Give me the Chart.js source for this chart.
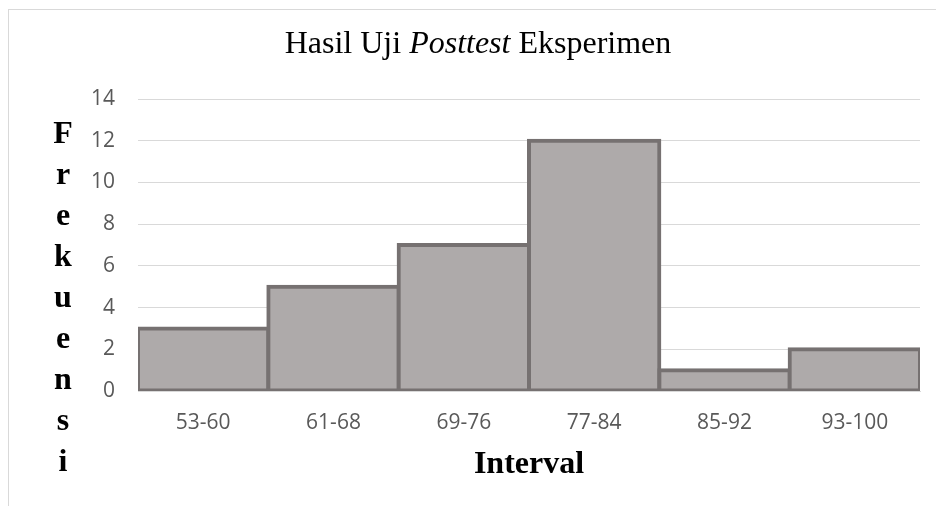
<!DOCTYPE html>
<html>
<head>
<meta charset="utf-8">
<script src="https://cdn.jsdelivr.net/npm/chart.js@4/dist/chart.umd.min.js"></script>
<style>
  html, body { margin: 0; padding: 0; background: #fff; overflow: hidden; }
  #frame {
    position: absolute; left: 8px; top: 9px; width: 960px; height: 520px;
    border-left: 1px solid #d9d9d9; border-top: 1px solid #d9d9d9;
  }
  #chart { position: absolute; left: 0; top: 0; }
</style>
</head>
<body>
<div id="frame"></div>
<canvas id="chart" width="936" height="506"></canvas>
<script>
const categories = ["53-60", "61-68", "69-76", "77-84", "85-92", "93-100"];
const frequencies = [3, 5, 7, 12, 1, 2];
const yTicks = [0, 2, 4, 6, 8, 10, 12, 14];

const titleParts = [
  { text: "Hasil Uji ", italic: false },
  { text: "Posttest", italic: true },
  { text: " Eksperimen", italic: false }
];
const yTitle = "Frekuensi";
const xTitle = "Interval";

const serif = '"Liberation Serif", "Times New Roman", serif';

// title, stacked y label and x label drawn by hand (mixed italic + vertical letters)
const labelsPlugin = {
  id: "labels",
  afterDraw(chart) {
    const ctx = chart.ctx;
    ctx.save();
    ctx.fillStyle = "#000";
    ctx.textBaseline = "alphabetic";

    // title
    let total = 0;
    titleParts.forEach(p => {
      ctx.font = (p.italic ? "italic " : "") + "32px " + serif;
      p.w = ctx.measureText(p.text).width;
      total += p.w;
    });
    let x = 478 - total / 2;
    titleParts.forEach(p => {
      ctx.font = (p.italic ? "italic " : "") + "32px " + serif;
      ctx.textAlign = "left";
      ctx.fillText(p.text, x, 53);
      x += p.w;
    });

    // y title, one letter per line
    ctx.font = "bold 32px " + serif;
    ctx.textAlign = "center";
    yTitle.split("").forEach((ch, i) => {
      ctx.fillText(ch, 63, 143 + i * 41);
    });

    // x title
    const area = chart.chartArea;
    ctx.fillText(xTitle, (area.left + area.right) / 2, 473);
    ctx.restore();
  }
};

new Chart(document.getElementById("chart"), {
  type: "bar",
  data: {
    labels: categories,
    datasets: [{
      data: frequencies,
      backgroundColor: "#aeaaaa",
      borderColor: "#767171",
      borderWidth: 4,
      inflateAmount: 2,
      borderSkipped: false,
      categoryPercentage: 1,
      barPercentage: 1
    }]
  },
  options: {
    responsive: false,
    animation: false,
    layout: { padding: { left: 0, right: 16, top: 99, bottom: 0 } },
    plugins: {
      legend: { display: false },
      tooltip: { enabled: false }
    },
    scales: {
      x: {
        grid: { display: false },
        border: { display: true, color: "#d9d9d9", width: 1 },
        ticks: {
          color: "#595959",
          font: { family: '"Open Sans", sans-serif', size: 21 },
          padding: 11,
          maxRotation: 0
        },
        afterFit(s) { s.height = 115; }
      },
      y: {
        min: 0,
        max: 14,
        afterBuildTicks(s) { s.ticks = yTicks.map(v => ({ value: v })); },
        grid: { color: "#d9d9d9", lineWidth: 1, drawTicks: false },
        border: { display: false },
        ticks: {
          color: "#595959",
          font: { family: '"Open Sans", sans-serif', size: 21 },
          padding: 23
        },
        afterFit(s) { s.width = 138; }
      }
    }
  },
  plugins: [labelsPlugin]
});
</script>
</body>
</html>
